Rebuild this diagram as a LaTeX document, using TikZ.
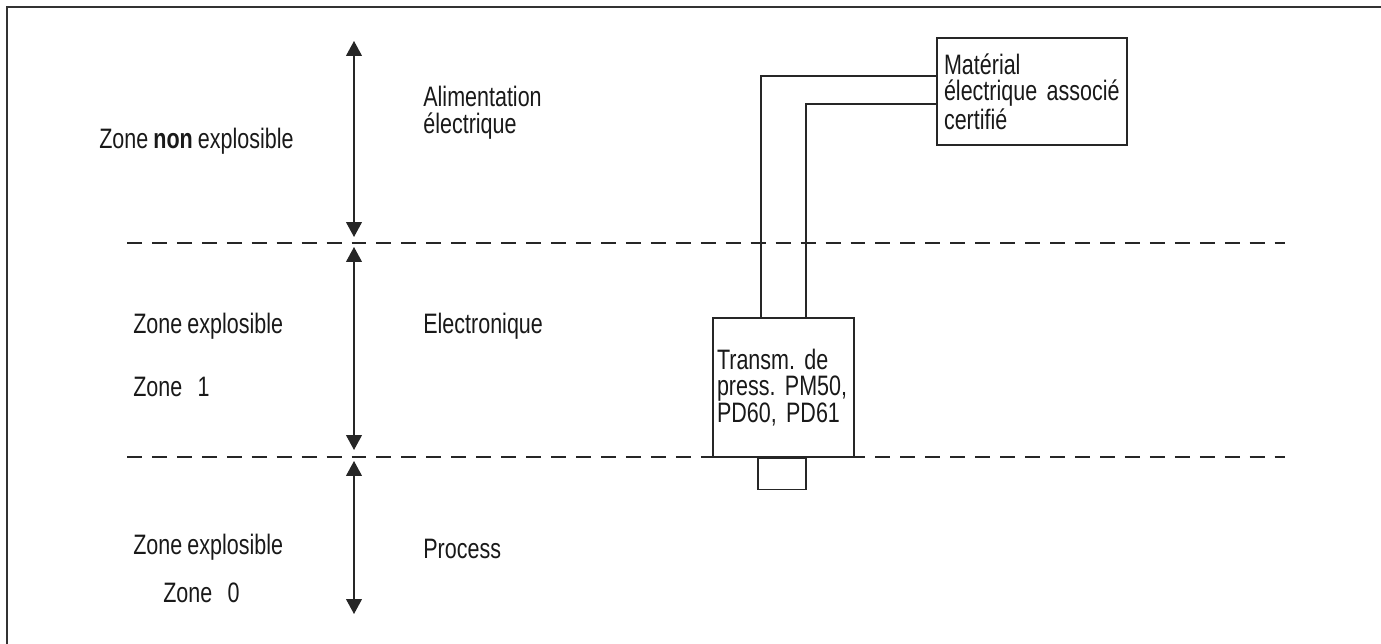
\documentclass[tikz,border=0pt]{standalone}
\usepackage{fontspec}
\setmainfont{Liberation Sans}[FakeStretch=0.765, WordSpace=0.85]
\usetikzlibrary{arrows.meta,positioning,calc}

\tikzset{
  frame/.style={line width=1.1pt, black!80},
  wire/.style={line width=0.8pt, black!85},
  zoneline/.style={line width=0.9pt, black!85, dash pattern=on 8.5pt off 5.7pt},
  dimarrow/.style={line width=0.8pt, black!85,
    {Triangle[length=8.5pt,width=9pt]}-{Triangle[length=8.5pt,width=9pt]}},
  box/.style={draw, line width=0.8pt, black!85, text=black!90, align=left,
    execute at begin node={\setlength{\baselineskip}{15.1pt}\hyphenpenalty=10000}},
  lbl/.style={anchor=west, inner sep=0pt, text=black!90},
}

\begin{document}
\frenchspacing
\begin{tikzpicture}[x=0.02cm, y=-0.02cm, font=\fontsize{16pt}{15.1pt}\selectfont]
  \useasboundingbox (0,0) rectangle (1381,644);
  % frame
  \draw[frame] (1381,7) -- (7,7) -- (7,644);
  % zone boundaries
  \draw[zoneline] (127,243) -- (1285,243);
  \draw[zoneline] (127,457) -- (1285,457);
  % extent of each zone
  \draw[dimarrow] (354,41) -- (354,237);
  \draw[dimarrow] (354,247) -- (354,450);
  \draw[dimarrow] (354,461) -- (354,614);
  % zone names
  \node[lbl] (nonex) at (99,141) {Zone \textbf{non} explosible};
  \node[lbl] (ex1) at (133,326) {Zone explosible};
  \node[lbl] (z1) at (133,387) {Zone~~~1};
  \node[lbl] (ex0) at (133,547) {Zone explosible};
  \node[lbl] (z0) at (163,593) {Zone~~~0};
  % what sits in each zone
  \node[lbl, align=left] (alim) at (423,113) {Alimentation\\électrique};
  \node[lbl] (elec) at (423,326) {Electronique};
  \node[lbl] (proc) at (423,549) {Process};
  % equipment
  \node[box, minimum width=3.8cm, minimum height=2.14cm, text width=3.52cm,
    inner xsep=0.14cm] (mat) at (1032,91.5) {Matérial\\électrique~associé\\certifié};
  \node[box, minimum width=2.82cm, minimum height=2.78cm, text width=2.66cm,
    inner xsep=0.08cm] (tx) at (783.5,387.5) {Transm. de\\press. PM50,\\PD60, PD61};
  \node[box, minimum width=0.96cm, minimum height=0.62cm, inner sep=0pt,
    anchor=north] (port) at ($(tx.south)+(-1.5,0)$) {};
  % two-wire link
  \draw[wire] ($(mat.west)+(0,-15.5)$) -| ($(tx.north)+(-22.5,0)$);
  \draw[wire] ($(mat.west)+(0,12.5)$) -| ($(tx.north)+(22.5,0)$);
\end{tikzpicture}
\end{document}
